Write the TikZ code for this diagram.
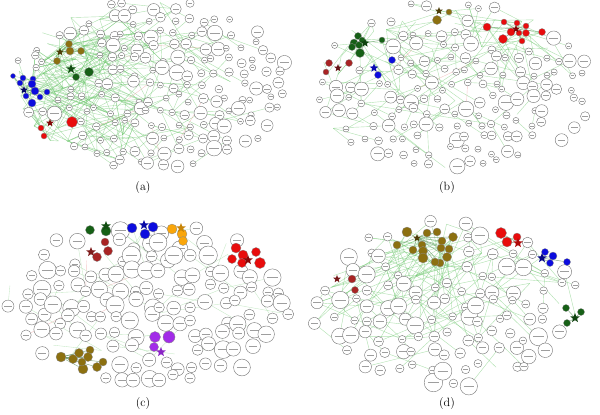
\documentclass[tikz,border=0pt]{standalone}
\usetikzlibrary{shapes.geometric,backgrounds}
\definecolor{cred}{RGB}{232,12,12}
\definecolor{cblue}{RGB}{12,12,222}
\definecolor{cgreen}{RGB}{22,96,22}
\definecolor{colive}{RGB}{140,112,16}
\definecolor{cfire}{RGB}{168,36,36}
\definecolor{corange}{RGB}{250,166,10}
\definecolor{cpurple}{RGB}{162,44,232}
\definecolor{edgegreen}{RGB}{110,200,110}
\definecolor{edgepink}{RGB}{235,150,150}
\tikzset{
  nd/.style={circle,draw=black!55,line width=0.4pt,fill=white,inner sep=0pt},
  lbl/.style={draw=black!38,line width=0.7pt},
  ge/.style={draw=edgegreen,line width=0.4pt,opacity=0.55},
  gel/.style={draw=edgegreen,line width=0.35pt,opacity=0.4},
  pe/.style={draw=edgepink,line width=0.4pt,opacity=0.5},
  ce/.style={draw=cgreen!70,line width=0.5pt,opacity=0.7},
  cn/.style={circle,draw=black!45,line width=0.3pt,fill=#1,inner sep=0pt},
  st/.style={star,star points=5,star point ratio=2.3,fill=#1,inner sep=0pt,minimum size=10pt},
  captxt/.style={font=\fontsize{12}{14}\selectfont}
}
% rectangle test used in exclusion expressions
\newcommand\rg[4]{+(\px>#1)*(\px<#2)*(\py>#3)*(\py<#4)}
% random network panel: name, cx, cy, a, b, spacing, dmin, drange, exclusion
\newcommand\netpanel[9]{%
  \pgfmathtruncatemacro\ni{floor(#4/#6)}%
  \pgfmathtruncatemacro\nj{floor(#5/#6)}%
  \foreach \i in {-\ni,...,\ni}{\foreach \j in {-\nj,...,\nj}{%
    \pgfmathtruncatemacro\ins{((\i*#6/#4)^2+(\j*#6/#5)^2<0.95)?1:0}%
    \ifnum\ins=1
      \pgfmathtruncatemacro\ii{\i+30}\pgfmathtruncatemacro\jj{\j+30}%
      \pgfmathsetmacro\px{#2+\i*#6+(rnd-0.5)*0.7*#6}%
      \pgfmathsetmacro\py{#3+\j*#6+(rnd-0.5)*0.7*#6}%
      \pgfmathsetmacro\dd{#7+#8*pow(rnd,\dexp)}%
      \pgfmathsetmacro\hl{0.3*\dd}%
      \pgfmathtruncatemacro\sk{((rnd<0.08)+(0#9>0))>0?1:0}%
      \ifnum\sk=1
        \coordinate (#1p\ii q\jj) at (\px,\py);
      \else
        \node[nd,minimum size=\dd pt] (#1p\ii q\jj) at (\px,\py) {};
        \draw[lbl] (\px-\hl,\py) -- (\px+\hl,\py);
      \fi
    \fi}}}
% random edges: name, a, b, spacing, probability, style, tries
\newcommand\netedges[7]{%
  \pgfmathtruncatemacro\ni{floor(#2/#4)}%
  \pgfmathtruncatemacro\nj{floor(#3/#4)}%
  \foreach \i in {-\ni,...,\ni}{\foreach \j in {-\nj,...,\nj}{%
    \pgfmathtruncatemacro\ins{((\i*#4/#2)^2+(\j*#4/#3)^2<0.95)?1:0}%
    \ifnum\ins=1
      \pgfmathtruncatemacro\ii{\i+30}\pgfmathtruncatemacro\jj{\j+30}%
      \foreach \k in {1,...,#7}{%
        \pgfmathtruncatemacro\ok{(rnd<(#5))?1:0}%
        \ifnum\ok=1
          \pgfmathtruncatemacro\ti{\i+round((rnd-0.5)*10)}%
          \pgfmathtruncatemacro\tj{\j+round((rnd-0.5)*7)}%
          \pgfmathtruncatemacro\tin{((\ti*#4/#2)^2+(\tj*#4/#3)^2<0.95)?1:0}%
          \ifnum\tin=1
            \pgfmathtruncatemacro\tii{\ti+30}\pgfmathtruncatemacro\tjj{\tj+30}%
            \draw[#6] (#1p\ii q\jj) -- (#1p\tii q\tjj);
          \fi
        \fi}%
    \fi}}}
% links from a cluster node into the field: node, panel, a, b, spacing, ci, cj, tries
\newcommand\clinks[8]{%
  \foreach \k in {1,...,#8}{%
    \pgfmathtruncatemacro\ti{#6+round((rnd-0.5)*12)}%
    \pgfmathtruncatemacro\tj{#7+round((rnd-0.5)*7)}%
    \pgfmathtruncatemacro\tin{((\ti*#5/#3)^2+(\tj*#5/#4)^2<0.95)?1:0}%
    \ifnum\tin=1
      \pgfmathtruncatemacro\tii{\ti+30}\pgfmathtruncatemacro\tjj{\tj+30}%
      \draw[ge] (#1) -- (#2p\tii q\tjj);
    \fi}}
\begin{document}
\begin{tikzpicture}[x=1pt,y=-1pt]
\useasboundingbox (0,0) rectangle (600,415);
\pgfmathsetseed{4321}
% ---------- node fields
\def\dexp{2.8}
\netpanel{a}{150}{85}{142}{84}{13}{6}{10}{\rg{6}{54}{70}{110}\rg{50}{90}{36}{66}\rg{64}{98}{62}{84}\rg{34}{80}{114}{142}}
\netpanel{b}{454}{86}{142}{84}{13}{6}{10}{\rg{428}{456}{3}{28}\rg{344}{390}{28}{60}\rg{318}{356}{56}{78}\rg{366}{398}{52}{82}\rg{478}{548}{14}{47}}
\def\dexp{1.6}
\netpanel{c}{148}{304}{144}{84}{15}{10.5}{8}{\rg{82}{114}{220}{238}\rg{124}{160}{218}{241}\rg{164}{192}{220}{248}\rg{84}{115}{236}{264}\rg{224}{268}{241}{271}\rg{146}{178}{329}{358}\rg{52}{110}{343}{376}}
\def\dexp{2}
\netpanel{d}{448}{304}{140}{84}{16}{7.5}{11}{\rg{388}{462}{224}{271}\rg{492}{526}{225}{250}\rg{535}{573}{245}{269}\rg{558}{588}{301}{329}\rg{330}{361}{272}{296}}
\begin{scope}[on background layer]
  \fill[white] (0,0) rectangle (600,415);
  \netedges{a}{142}{84}{13}{max(0.02,min(0.95,0.55-0.1*\i))}{ge}{4}
  \netedges{a}{142}{84}{13}{(abs(\i)<3)*0.08}{pe}{1}
  \netedges{b}{142}{84}{13}{max(0.08,0.45-0.03*\i-0.06*\j)}{ge}{2}
  \netedges{b}{142}{84}{13}{(abs(\i)<3)*0.05}{pe}{1}
  \netedges{c}{144}{84}{15}{0.2}{gel}{2}
  \netedges{c}{144}{84}{15}{(abs(\i+3)<2)*(abs(\j)<2)*0.3}{pe}{1}
  \netedges{d}{140}{84}{16}{max(0.04,min(0.9,0.45-0.08*\j-0.05*\i))}{ge}{3}
\end{scope}
% ---------- panel (a) clusters
\foreach \x/\y/\r [count=\c] in {69/44/3.5,70/51/4,81/51/3.5,57/61/3.5}
  {\node[cn=colive,minimum size=2*\r pt] (aO\c) at (\x,\y) {};}
\node[st=colive!55!black,minimum size=8pt] (aOs) at (60,52) {};
\foreach \x/\y/\r [count=\c] in {76/77/3.5,89/72/4.5}
  {\node[cn=cgreen,minimum size=2*\r pt] (aG\c) at (\x,\y) {};}
\node[st=cgreen!80!black] (aGs) at (71,69) {};
\foreach \x/\y/\r [count=\c] in {13/76/2.5,23/78/3,33/79/3,20/83/3,32/84/4,35/91/4,47/92/3,26/96/3,40/97/3,32/103/4}
  {\node[cn=cblue,minimum size=2*\r pt] (aB\c) at (\x,\y) {};}
\node[st=cblue!45!black,minimum size=8pt] (aBs) at (24,90) {};
\foreach \x/\y/\r [count=\c] in {72/122/5.5,41/128/3,44/136/3}
  {\node[cn=cred,minimum size=2*\r pt] (aR\c) at (\x,\y) {};}
\node[st=cred!55!black,minimum size=8pt] (aRs) at (50,123) {};
% ---------- panel (b) clusters
\node[cn=colive,minimum size=6pt] (bO1) at (449,12) {};
\node[cn=colive,minimum size=9pt] (bO2) at (437,20) {};
\node[st=colive!55!black,minimum size=8pt] (bOs) at (439,11) {};
\foreach \x/\y/\r [count=\c] in {358/36/3.5,354/43/4,359/45/3.5,362/40/3,382/40/3,360/53/4.5,352/47/3.5}
  {\node[cn=cgreen,minimum size=2*\r pt] (bG\c) at (\x,\y) {};}
\node[st=cgreen!70!black,minimum size=9pt] (bGs) at (365,43) {};
\foreach \x/\y/\r [count=\c] in {329/63/3.5,349/63/3.5,326/72/3}
  {\node[cn=cfire,minimum size=2*\r pt] (bF\c) at (\x,\y) {};}
\node[st=cfire!60!black,minimum size=8pt] (bFs) at (338,68) {};
\foreach \x/\y/\r [count=\c] in {392/60/3.5,378/75/3.5}
  {\node[cn=cblue,minimum size=2*\r pt] (bB\c) at (\x,\y) {};}
\node[st=cblue!80!black,minimum size=9pt] (bBs) at (374,68) {};
\foreach \x/\y/\r [count=\c] in {487/27/4,504/22/3,517/23/3,526/26/3,511/32/4,519/33/3,526/33/3.5,542/32/3.5,503/39/4.5,522/41/3}
  {\node[cn=cred,minimum size=2*\r pt] (bR\c) at (\x,\y) {};}
\node[st=cred!55!black,minimum size=8pt] (bRs) at (516,29) {};
% ---------- panel (c) clusters
\foreach \x/\y/\r [count=\c] in {90/230/4.5,106/231/5}
  {\node[cn=cgreen,minimum size=2*\r pt] (cG\c) at (\x,\y) {};}
\node[st=cgreen!80!black] (cGs) at (106,226) {};
\foreach \x/\y/\r [count=\c] in {132/228/5,145/234/5,153/227/5}
  {\node[cn=cblue,minimum size=2*\r pt] (cB\c) at (\x,\y) {};}
\node[st=cblue!75!black] (cBs) at (144,225) {};
\foreach \x/\y/\r [count=\c] in {172/229/5,182/234/5,183/241/4.5}
  {\node[cn=corange,minimum size=2*\r pt] (cY\c) at (\x,\y) {};}
\node[st=corange!80!black] (cYs) at (181,228) {};
\foreach \x/\y/\r [count=\c] in {105/242/4,108/251/4.5,97/257/4.5}
  {\node[cn=cfire,minimum size=2*\r pt] (cF\c) at (\x,\y) {};}
\node[st=cfire!75!black] (cFs) at (91,252) {};
\foreach \x/\y/\r [count=\c] in {236/248/5,243/255/5,256/252/4.5,232/259/4.5,242/263/4.5,260/263/5.5}
  {\node[cn=cred,minimum size=2*\r pt] (cR\c) at (\x,\y) {};}
\node[st=cred!60!black] (cRs) at (248,260) {};
\foreach \x/\y/\r [count=\c] in {155/337/5.5,169/337/6,154/347/4.5}
  {\node[cn=cpurple,minimum size=2*\r pt] (cP\c) at (\x,\y) {};}
\node[st=cpurple!85!black] (cPs) at (161,352) {};
\foreach \x/\y/\r [count=\c] in {61/357/5,73/359/4.5,79/353/4.5,90/350/4,88/357/4.5,83/369/5,97/367/4.5,103/362/4,82/362/4}
  {\node[cn=colive,minimum size=2*\r pt] (cO\c) at (\x,\y) {};}
% ---------- panel (d) clusters
\foreach \x/\y/\r [count=\c] in {407/232/5,427/233/4,437/232/4,453/237/4.5,397/245/4,422/245/4,442/241/4,441/248/4,413/250/4,423/251/4.5,449/249/4,423/258/5,447/257/4.5,440/263/4,435/262/4}
  {\node[cn=colive,minimum size=2*\r pt] (dO\c) at (\x,\y) {};}
\node[st=colive!55!black,minimum size=8pt] (dOs) at (417,238) {};
\foreach \x/\y/\r [count=\c] in {501/233/5.5,507/242/5,517/237/4}
  {\node[cn=cred,minimum size=2*\r pt] (dR\c) at (\x,\y) {};}
\node[st=cred!75!black] (dRs) at (518,243) {};
\foreach \x/\y/\r [count=\c] in {545/252/3.5,553/256/4,550/263/3.5,567/262/3.5}
  {\node[cn=cblue,minimum size=2*\r pt] (dB\c) at (\x,\y) {};}
\node[st=cblue!60!black] (dBs) at (542,258) {};
\foreach \x/\y/\r [count=\c] in {566/308/3.5,581/312/3.5,567/323/3.5}
  {\node[cn=cgreen,minimum size=2*\r pt] (dG\c) at (\x,\y) {};}
\node[st=cgreen!70!black] (dGs) at (575,318) {};
\foreach \x/\y/\r [count=\c] in {352/279/4,355/290/3.5}
  {\node[cn=cfire,minimum size=2*\r pt] (dF\c) at (\x,\y) {};}
\node[st=cfire!70!black,minimum size=8pt] (dFs) at (337,279) {};
% ---------- cluster links
\begin{scope}[on background layer]
  \foreach \c in {1,...,4} {\draw[ce] (aOs) -- (aO\c);}
  \foreach \c in {1,...,10} {\draw[ce] (aBs) -- (aB\c);}
  \foreach \c in {1,...,7} {\draw[ce] (bGs) -- (bG\c);}
  \foreach \c in {1,...,10} {\draw[ce] (bRs) -- (bR\c);}
  \foreach \c in {1,...,15} {\draw[ce] (dOs) -- (dO\c);}
  \foreach \c in {1,2,3} {\draw[ce] (dRs) -- (dR\c);}
  \foreach \c in {1,...,4} {\draw[ce] (dBs) -- (dB\c);}
  \foreach \c in {1,2,3} {\draw[ce] (dGs) -- (dG\c);}
  \foreach \c in {1,...,9} {\draw[ce] (cO1) -- (cO\c);}
  \foreach \c in {1,...,10} {\clinks{aB\c}{a}{142}{84}{13}{-7}{0}{3}}
  \foreach \c in {1,...,4} {\clinks{aO\c}{a}{142}{84}{13}{-4}{-2}{3}}
  \foreach \c in {1,2} {\clinks{aG\c}{a}{142}{84}{13}{-3}{-1}{4}}
  \foreach \c in {1,2,3} {\clinks{aR\c}{a}{142}{84}{13}{-5}{2}{3}}
  \foreach \c in {1,...,7} {\clinks{bG\c}{b}{142}{84}{13}{-5}{-2}{2}}
  \foreach \c in {1,...,10} {\clinks{bR\c}{b}{142}{84}{13}{4}{-3}{2}}
  \foreach \c in {1,...,15} {\clinks{dO\c}{d}{140}{84}{16}{-4}{-1}{3}}
  \foreach \c in {1,2} {\clinks{dF\c}{d}{140}{84}{16}{-5}{0}{3}}
\end{scope}
% ---------- captions
\node[captxt] (capa) at (143,188) {(a)};
\node[captxt] (capb) at (447,188) {(b)};
\node[captxt] (capc) at (143,404) {(c)};
\node[captxt] (capd) at (447,404) {(d)};
\end{tikzpicture}
\end{document}
